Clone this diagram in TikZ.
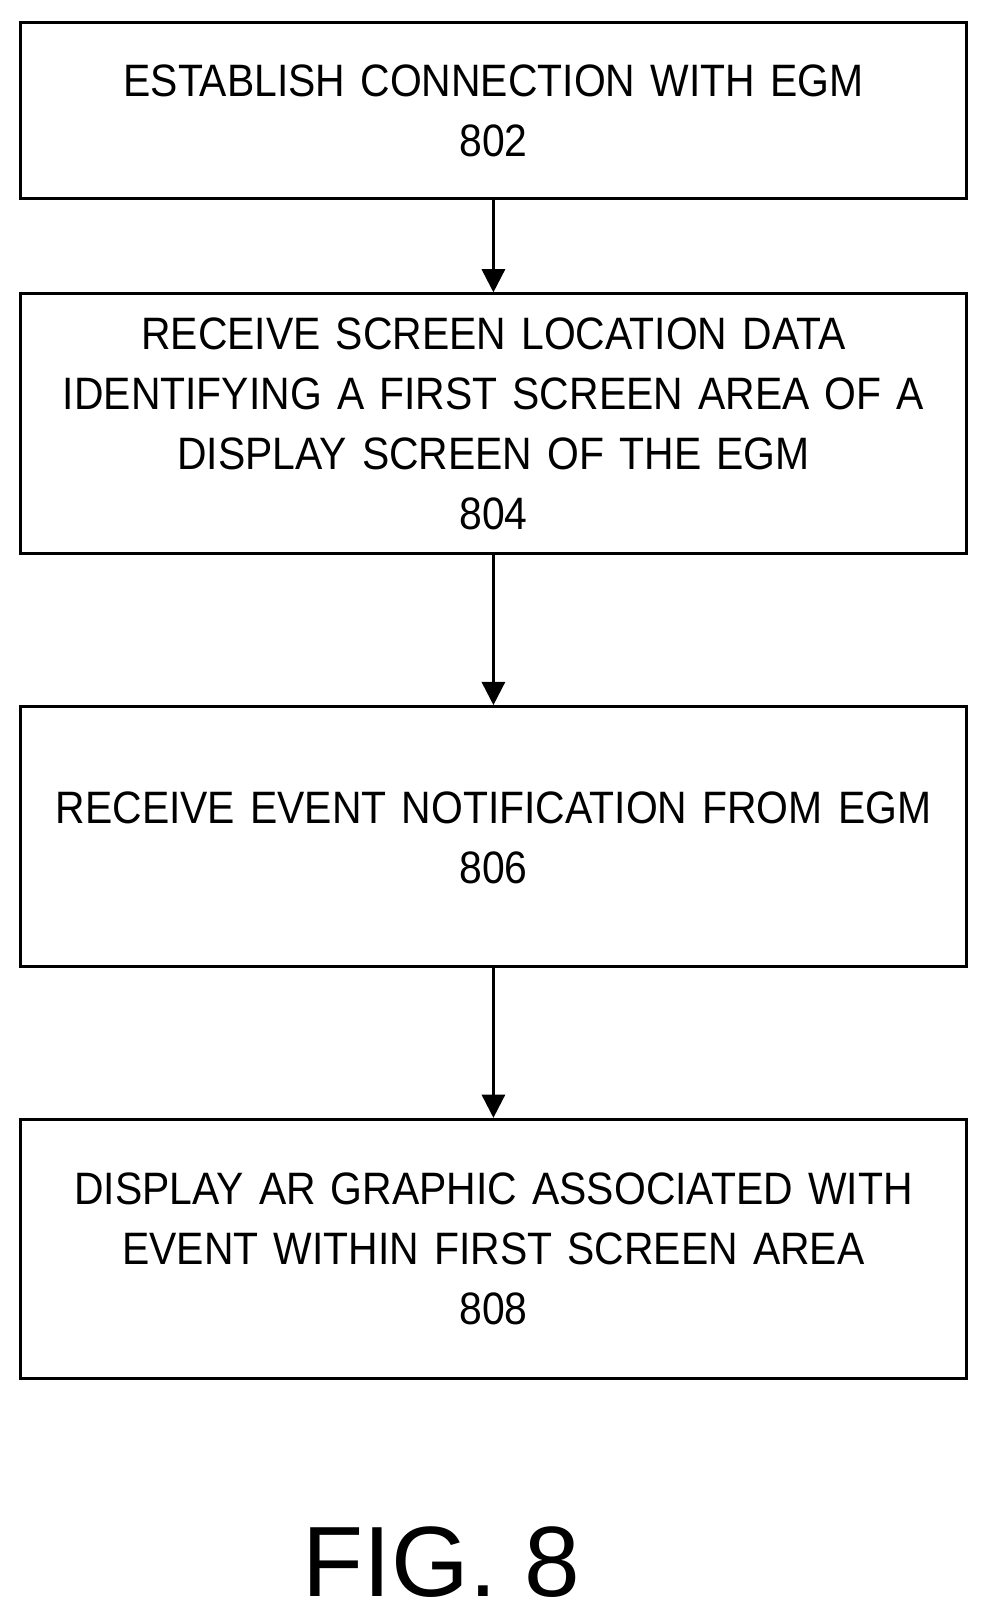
\documentclass[tikz,border=0pt]{standalone}
\usepackage{fontspec}
\setmainfont{Liberation Sans}
\newfontfamily\narrowfont[FakeStretch=0.9]{Liberation Sans}
\usetikzlibrary{positioning,arrows.meta}
\tikzset{
  stepbox/.style={draw,line width=1.6pt,minimum width=18.28cm,text width=17.8cm,align=center,
    font=\narrowfont\fontsize{25}{33}\selectfont},
  flow/.style={-{Triangle[length=0.45cm,width=0.45cm]},line width=1.4pt}
}
\begin{document}
\begin{tikzpicture}[x=0.02cm,y=-0.02cm]
  \useasboundingbox (0,0) rectangle (956,1569);
  \node[stepbox,minimum height=3.4cm] (s802) at (477,107) {ESTABLISH CONNECTION WITH EGM\\802};
  \node[stepbox,minimum height=5.02cm] (s804) at (477,409.5) {RECEIVE SCREEN LOCATION DATA\\IDENTIFYING A FIRST SCREEN AREA OF A\\DISPLAY SCREEN OF THE EGM\\804};
  \node[stepbox,minimum height=5.02cm,text depth=1.1cm] (s806) at (477,808.5) {RECEIVE EVENT NOTIFICATION FROM EGM\\806};
  \node[stepbox,minimum height=5.02cm] (s808) at (477,1207.5) {DISPLAY AR GRAPHIC ASSOCIATED WITH\\EVENT WITHIN FIRST SCREEN AREA\\808};
  \draw[flow] (s802) -- (s804);
  \draw[flow] (s804) -- (s806);
  \draw[flow] (s806) -- (s808);
  \node[font=\fontsize{55}{62}\selectfont] (fig) at (427,1510) {FIG. 8};
\end{tikzpicture}
\end{document}
